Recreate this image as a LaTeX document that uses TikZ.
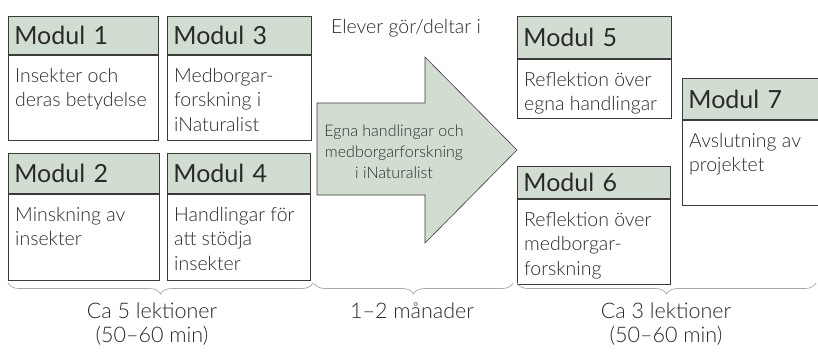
\documentclass[tikz,border=0pt]{standalone}
\usepackage{fontspec}
\IfFontExistsTF{Lato Light}{\setmainfont{Lato Light}}{\setmainfont{Lato}}
\newfontfamily\hdrfont{Lato}
\usetikzlibrary{decorations.pathreplacing}
\definecolor{sage}{HTML}{D2DDD1}
\definecolor{ink}{HTML}{2A2A2A}
\definecolor{frame}{HTML}{3A3A3A}
\definecolor{bracegray}{HTML}{A8A8A8}
\begin{document}
\begin{tikzpicture}[x=1pt,y=-1pt,
  hdr/.style={draw=frame, fill=sage, line width=0.8pt, anchor=north west, inner xsep=6pt, inner ysep=0pt, align=left, text=ink, font=\hdrfont\fontsize{25}{28}\selectfont},
  bodybox/.style={draw=frame, fill=white, line width=0.8pt, anchor=north west, inner sep=0pt},
  bodytxt/.style={anchor=north west, inner sep=0pt, align=left, text=ink, font=\fontsize{19.5}{24.5}\selectfont},
  bracestyle/.style={draw=bracegray, line width=0.7pt, decorate, decoration={brace, mirror, amplitude=11pt}},
  bottomtxt/.style={anchor=north, inner sep=0pt, align=center, text=ink, font=\fontsize{21.5}{23.5}\selectfont},
  arrowshape/.style={draw=frame, fill=sage, line width=0.6pt, line join=miter}
]
\clip (0,0) rectangle (818,353);
\fill[white] (0,0) rectangle (818,353);

% Modul 1
\node[hdr, text width=138pt, minimum height=38pt] (m1h) at (8,16) {Modul 1};
\node[bodybox, minimum width=150pt, minimum height=85pt] (m1b) at (m1h.south west) {};
\node[bodytxt] (m1t) at ([shift={(7,13)}]m1b.north west) {Insekter och\\deras betydelse};
% Modul 3
\node[hdr, text width=132pt, minimum height=38pt] (m3h) at (167,16) {Modul 3};
\node[bodybox, minimum width=144pt, minimum height=85pt] (m3b) at (m3h.south west) {};
\node[bodytxt] (m3t) at ([shift={(7,13)}]m3b.north west) {Medborgar-\\forskning i\\iNaturalist};
% Modul 2
\node[hdr, text width=139pt, minimum height=40pt] (m2h) at (8,153) {Modul 2};
\node[bodybox, minimum width=151pt, minimum height=86pt] (m2b) at (m2h.south west) {};
\node[bodytxt] (m2t) at ([shift={(7,13)}]m2b.north west) {Minskning av\\insekter};
% Modul 4
\node[hdr, text width=131pt, minimum height=40pt] (m4h) at (167,153) {Modul 4};
\node[bodybox, minimum width=143pt, minimum height=86pt] (m4b) at (m4h.south west) {};
\node[bodytxt] (m4t) at ([shift={(7,13)}]m4b.north west) {Handlingar för\\att stödja\\insekter};
% Modul 5
\node[hdr, text width=142pt, minimum height=42pt] (m5h) at (517,16) {Modul 5};
\node[bodybox, minimum width=154pt, minimum height=59pt] (m5b) at (m5h.south west) {};
\node[bodytxt] (m5t) at ([shift={(7,13)}]m5b.north west) {Reflektion över\\egna handlingar};
% Modul 6
\node[hdr, text width=141pt, minimum height=32pt] (m6h) at (517,166) {Modul 6};
\node[bodybox, minimum width=153pt, minimum height=85pt] (m6b) at (m6h.south west) {};
\node[bodytxt] (m6t) at ([shift={(7,13)}]m6b.north west) {Reflektion över\\medborgar-\\forskning};
% Modul 7
\node[hdr, text width=128pt, minimum height=41pt] (m7h) at (682,78) {Modul 7};
\node[bodybox, minimum width=140pt, minimum height=85pt] (m7b) at (m7h.south west) {};
\node[bodytxt] (m7t) at ([shift={(7,13)}]m7b.north west) {Avslutning av\\projektet};

% Arrow
\draw[arrowshape] (317,103) -- (425,103) -- (425,57) -- (517,150) -- (425,243) -- (425,195) -- (317,195) -- cycle;
\node[align=center, inner sep=0pt, text=ink, font=\fontsize{16}{21}\selectfont] (arrtxt) at (394,152) {Egna handlingar och\\medborgarforskning\\i iNaturalist};
\node[inner sep=0pt, text=ink, font=\fontsize{19.5}{22}\selectfont] (elever) at (406,28) {Elever gör/deltar i};

% Braces
\coordinate (b1l) at (8,283);
\coordinate (b1r) at (313,283);
\coordinate (b2l) at (314,283);
\coordinate (b2r) at (513,283);
\coordinate (b3l) at (517,283);
\coordinate (b3r) at (816,283);
\draw[bracestyle] (b1l) -- (b1r);
\draw[bracestyle] (b2l) -- (b2r);
\draw[bracestyle] (b3l) -- (b3r);
\node[bottomtxt] (lab1) at (152,303) {Ca 5 lektioner\\(50–60 min)};
\node[bottomtxt] (lab2) at (412,303) {1–2 månader};
\node[bottomtxt] (lab3) at (666,303) {Ca 3 lektioner\\(50–60 min)};
\end{tikzpicture}
\end{document}
